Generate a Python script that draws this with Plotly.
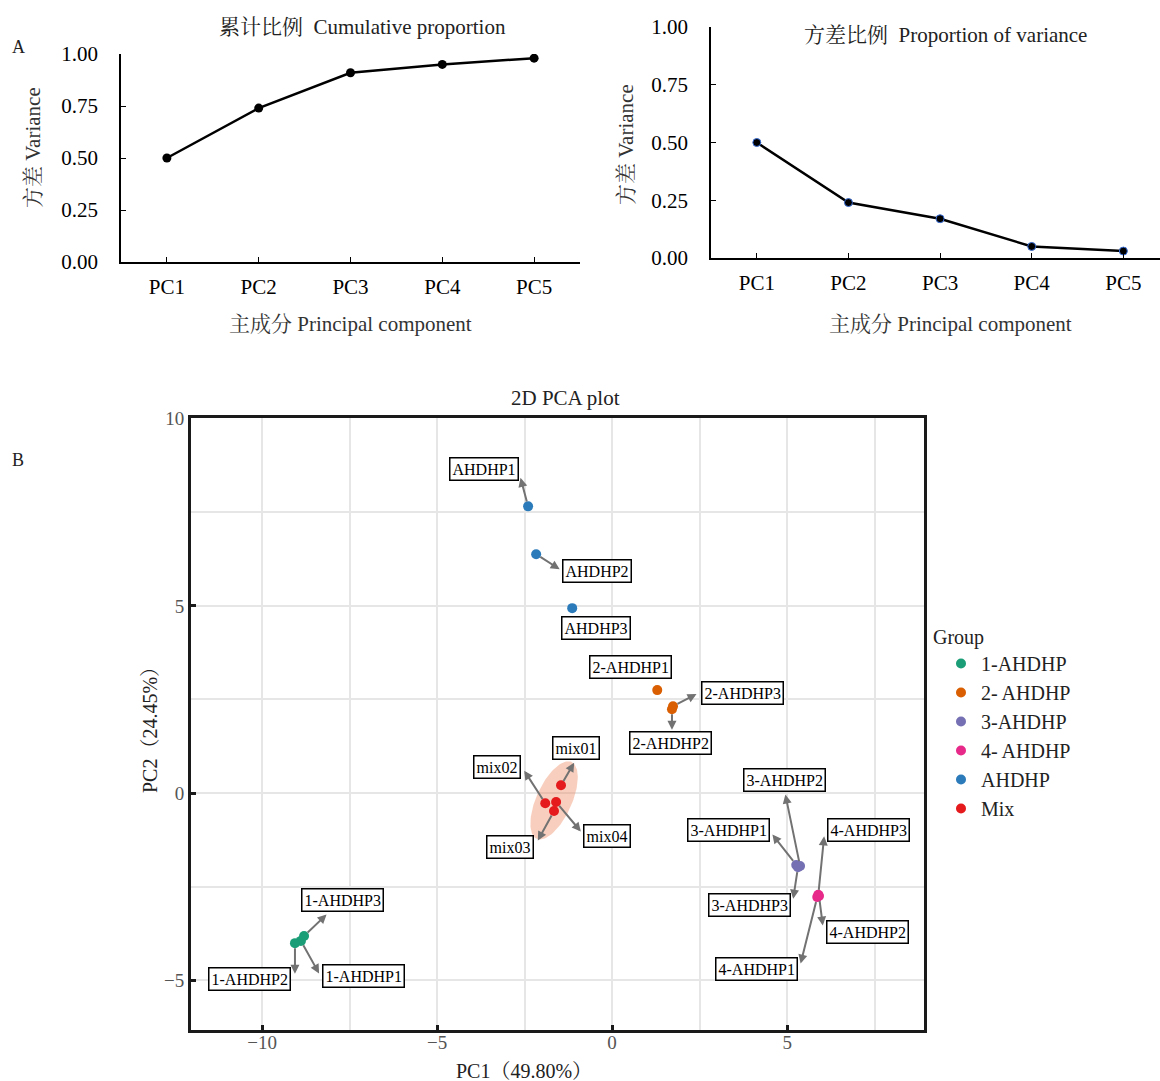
import numpy as np
import plotly.graph_objects as go

# ---------------- data ----------------
pcs = ["PC1", "PC2", "PC3", "PC4", "PC5"]
cumulative = [0.50, 0.74, 0.91, 0.95, 0.98]
proportion = [0.50, 0.24, 0.17, 0.05, 0.03]

groups = ["1-AHDHP", "2- AHDHP", "3-AHDHP", "4- AHDHP", "AHDHP", "Mix"]
group_colors = ["#1b9e77", "#d95f02", "#7570b3", "#e7298a", "#2b7bba", "#e41a1c"]

sample_names = ["1-AHDHP1", "1-AHDHP2", "1-AHDHP3",
                "2-AHDHP1", "2-AHDHP2", "2-AHDHP3",
                "3-AHDHP1", "3-AHDHP2", "3-AHDHP3",
                "4-AHDHP1", "4-AHDHP2", "4-AHDHP3",
                "AHDHP1", "AHDHP2", "AHDHP3",
                "mix01", "mix02", "mix03", "mix04"]
sample_group = ["1-AHDHP"] * 3 + ["2- AHDHP"] * 3 + ["3-AHDHP"] * 3 + ["4- AHDHP"] * 3 + ["AHDHP"] * 3 + ["Mix"] * 4
pc1 = [-8.89, -9.06, -8.80,
       1.29, 1.71, 1.74,
       5.26, 5.37, 5.31,
       5.86, 5.91, 5.89,
       -2.40, -2.17, -1.14,
       -1.46, -1.91, -1.66, -1.60]
pc2 = [-3.95, -4.01, -3.82,
       2.75, 2.24, 2.32,
       -1.92, -1.95, -1.98,
       -2.78, -2.75, -2.72,
       7.66, 6.38, 4.94,
       0.21, -0.27, -0.48, -0.24]

# label placement (pixel offsets of box centre; arrow end offsets or None)
label_box = {
    "1-AHDHP1": (63, 35), "1-AHDHP2": (-45, 36), "1-AHDHP3": (38, -36),
    "2-AHDHP1": (-27, -23), "2-AHDHP2": (-1, 34), "2-AHDHP3": (69, -13),
    "3-AHDHP1": (-68, -35), "3-AHDHP2": (-16, -86), "3-AHDHP3": (-48, 38),
    "4-AHDHP1": (-61, 72), "4-AHDHP2": (49, 36), "4-AHDHP3": (50, -65),
    "AHDHP1": (-44, -37), "AHDHP2": (61, 17), "AHDHP3": (24, 20),
    "mix01": (15, -37), "mix02": (-48, -36), "mix03": (-44, 36), "mix04": (51, 34),
}
label_arrow = {
    "1-AHDHP1": (19, 34), "1-AHDHP2": (0, 32), "1-AHDHP3": (24, -23),
    "2-AHDHP1": None, "2-AHDHP2": (0, 22), "2-AHDHP3": (25, -13),
    "3-AHDHP1": (-25, -32), "3-AHDHP2": (-15, -73), "3-AHDHP3": (-5, 33),
    "4-AHDHP1": (-17, 68), "4-AHDHP2": (4, 31), "4-AHDHP3": (6, -60),
    "AHDHP1": (-8, -30), "AHDHP2": (25, 16), "AHDHP3": None,
    "mix01": (14, -24), "mix02": (-22, -34), "mix03": (-17, 31), "mix04": (26, 31),
}

SERIF = "Liberation Serif, 'Noto Serif CJK SC', 'Noto Sans CJK SC', serif"
W, H = 1160, 1081

fig = go.Figure()

# ---------------- top-left: cumulative ----------------
fig.add_trace(go.Scatter(x=pcs, y=cumulative, mode="lines+markers",
                         line=dict(color="black", width=2.5),
                         marker=dict(color="black", size=9),
                         xaxis="x", yaxis="y", showlegend=False))
# ---------------- top-right: proportion ----------------
fig.add_trace(go.Scatter(x=pcs, y=proportion, mode="lines+markers",
                         line=dict(color="black", width=2.5),
                         marker=dict(color="black", size=8, line=dict(color="#3a6fd8", width=1)),
                         xaxis="x2", yaxis="y2", showlegend=False))

# ---------------- PCA ellipse for Mix ----------------
mx = np.array([p for p, g in zip(pc1, sample_group) if g == "Mix"])
my = np.array([p for p, g in zip(pc2, sample_group) if g == "Mix"])
cov = np.cov(np.vstack([mx, my]))
vals, vecs = np.linalg.eigh(cov)
t = np.linspace(0, 2 * np.pi, 120)
circle = np.vstack([np.cos(t), np.sin(t)])
ell = vecs @ np.diag(np.sqrt(vals) * 3.6) @ circle
fig.add_trace(go.Scatter(x=ell[0] + mx.mean(), y=ell[1] + my.mean(), mode="lines",
                         fill="toself", fillcolor="rgba(238,140,100,0.42)",
                         line=dict(width=0), hoverinfo="skip",
                         xaxis="x3", yaxis="y3", showlegend=False))

for g, c in zip(groups, group_colors):
    xs = [x for x, gg in zip(pc1, sample_group) if gg == g]
    ys = [y for y, gg in zip(pc2, sample_group) if gg == g]
    fig.add_trace(go.Scatter(x=xs, y=ys, mode="markers", name=g,
                             marker=dict(color=c, size=10),
                             xaxis="x3", yaxis="y3"))

ann = []
for name, x, y in zip(sample_names, pc1, pc2):
    a = label_arrow[name]
    if a is not None:
        ann.append(dict(x=x, y=y, xref="x3", yref="y3", text="", showarrow=True,
                        ax=a[0], ay=a[1], axref="pixel", ayref="pixel",
                        arrowside="start", startarrowhead=2, startarrowsize=0.9,
                        arrowwidth=2, arrowcolor="#727272", standoff=5))
    dx, dy = label_box[name]
    ann.append(dict(x=x, y=y, xref="x3", yref="y3", text=name, showarrow=False,
                    xshift=dx, yshift=-dy, xanchor="center", yanchor="middle",
                    font=dict(family=SERIF, size=16, color="black"),
                    bgcolor="white", bordercolor="black", borderwidth=1.5, borderpad=2))

def paper_x(px):
    return px / W

def paper_y(py):
    return 1 - py / H

texts = [
    ("累计比例  Cumulative proportion", 362, 27, 21, 0, "#222"),
    ("方差比例  Proportion of variance", 945, 35, 21, 0, "#222"),
    ("方差 Variance", 33, 148, 21, -90, "#333"),
    ("方差 Variance", 626, 145, 21, -90, "#333"),
    ("主成分 Principal component", 350, 324, 21, 0, "#333"),
    ("主成分 Principal component", 950, 324, 21, 0, "#333"),
    ("A", 18, 47, 18, 0, "#222"),
    ("B", 18, 460, 18, 0, "#222"),
    ("2D PCA plot", 565, 398, 21, 0, "#222"),
    ("PC2（24.45%）", 150, 725, 20, -90, "#222"),
    ("PC1（49.80%）", 524, 1071, 20, 0, "#222"),
]
for s, px, py, fs, ang, col in texts:
    ann.append(dict(x=paper_x(px), y=paper_y(py), xref="paper", yref="paper",
                    text=s, showarrow=False, textangle=ang,
                    xanchor="center", yanchor="middle",
                    font=dict(family=SERIF, size=fs, color=col)))

top_axis = dict(showline=True, linecolor="black", linewidth=1.5, ticks="inside",
                ticklen=5, tickcolor="black", showgrid=False, zeroline=False,
                automargin=False,
                tickfont=dict(family=SERIF, size=21, color="black"))

pca_axis = dict(showline=True, mirror=True, linecolor="#1a1a1a", linewidth=3,
                ticks="inside", ticklen=5, tickwidth=3, tickcolor="#1a1a1a",
                showgrid=True, gridcolor="#e6e6e6", gridwidth=2, zeroline=False,
                automargin=False,
                minor=dict(dtick=2.5, tick0=0, showgrid=True, gridcolor="#e6e6e6", gridwidth=2),
                tickfont=dict(family=SERIF, size=19, color="#555"))

fig.update_layout(
    template="none",
    width=W, height=H, margin=dict(l=0, r=0, t=0, b=0, pad=0),
    plot_bgcolor="white", paper_bgcolor="white",
    font=dict(family=SERIF, color="#222"),
    xaxis=dict(domain=[paper_x(121), paper_x(580)], anchor="y", range=[-0.5, 4.5],
               ticklabelstandoff=5, **top_axis),
    yaxis=dict(domain=[paper_y(262), paper_y(54)], anchor="x", range=[0, 1.0],
               tickvals=[0, 0.25, 0.5, 0.75, 1.0], tickformat=".2f",
               ticklabelstandoff=17, **top_axis),
    xaxis2=dict(domain=[paper_x(711), 1.0], anchor="y2", range=[-0.5, 4.40],
                ticklabelstandoff=5, **top_axis),
    yaxis2=dict(domain=[paper_y(258), paper_y(27)], anchor="x2", range=[0, 1.0],
                tickvals=[0, 0.25, 0.5, 0.75, 1.0], tickformat=".2f",
                ticklabelstandoff=17, **top_axis),
    xaxis3=dict(domain=[paper_x(191), paper_x(924)], anchor="y3", range=[-12.03, 8.91],
                tickvals=[-10, -5, 0, 5], ticktext=["−10", "−5", "0", "5"],
                ticklabelstandoff=-7, **pca_axis),
    yaxis3=dict(domain=[paper_y(1030), paper_y(418)], anchor="x3", range=[-6.33, 10.02],
                tickvals=[-5, 0, 5, 10], ticktext=["−5", "0", "5", "10"], **pca_axis),
    legend=dict(x=paper_x(931), y=paper_y(618), xanchor="left", yanchor="top",
                title=dict(text="Group", font=dict(family=SERIF, size=20, color="#222")),
                font=dict(family=SERIF, size=20, color="#222"),
                bgcolor="rgba(0,0,0,0)", borderwidth=0, indentation=10, tracegroupgap=0),
    annotations=ann,
)

fig.write_html("out.html", config={"displayModeBar": False},
               post_script="document.body.style.margin='0';document.body.style.overflow='hidden';")
